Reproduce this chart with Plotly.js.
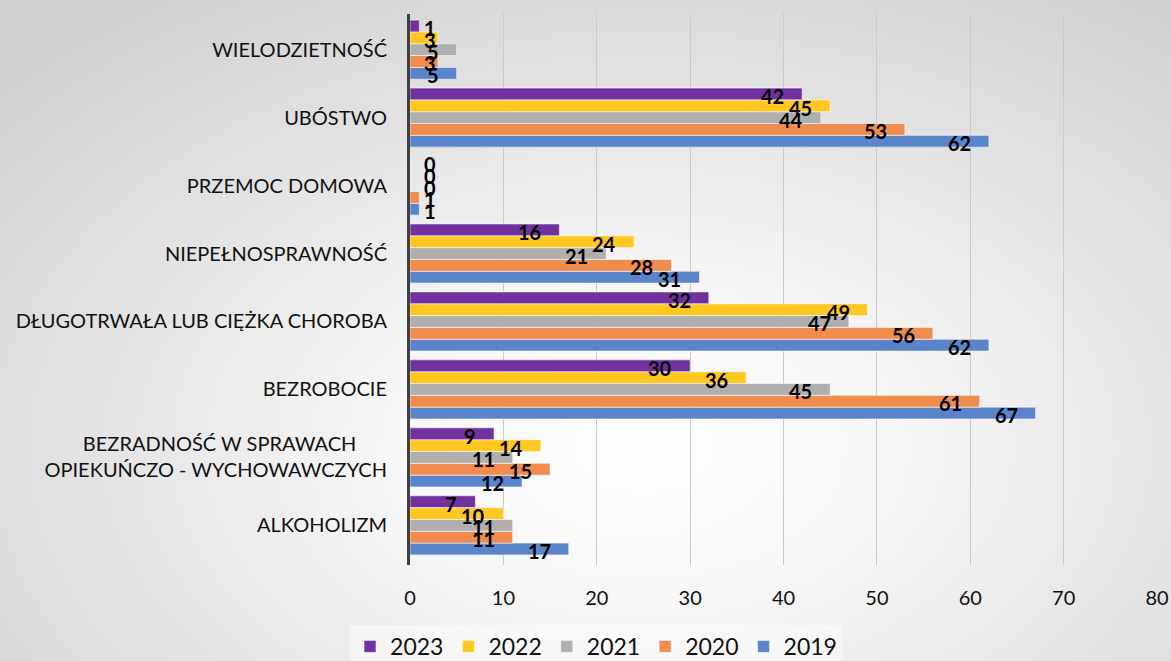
<!DOCTYPE html>
<html>
<head>
<meta charset="utf-8">
<script src="https://cdn.plot.ly/plotly-3.0.1.min.js"></script>
<style>
  html, body { margin: 0; padding: 0; }
  body {
    width: 1171px; height: 661px; overflow: hidden;
    background: radial-gradient(ellipse 75% 85% at 55% 68%, #ffffff 0%, #f6f6f6 30%, #e2e2e2 65%, #d0d0d0 100%);
  }
</style>
</head>
<body>
<div id="chart"></div>
<script>
// categories from bottom to top
const categories = [
  'ALKOHOLIZM',
  'BEZRADNOŚĆ W SPRAWACH\u00a0\u00a0\u00a0\u00a0\u00a0\u00a0<br>OPIEKUŃCZO - WYCHOWAWCZYCH',
  'BEZROBOCIE',
  'DŁUGOTRWAŁA LUB CIĘŻKA CHOROBA',
  'NIEPEŁNOSPRAWNOŚĆ',
  'PRZEMOC DOMOWA',
  'UBÓSTWO',
  'WIELODZIETNOŚĆ'
];

const years = ['2019', '2020', '2021', '2022', '2023'];
const v2019 = [17, 12, 67, 62, 31, 1, 62, 5];
const v2020 = [11, 15, 61, 56, 28, 1, 53, 3];
const v2021 = [11, 11, 45, 47, 21, 0, 44, 5];
const v2022 = [10, 14, 36, 49, 24, 0, 45, 3];
const v2023 = [7, 9, 30, 32, 16, 0, 42, 1];
const series = [v2019, v2020, v2021, v2022, v2023];
const colors = ['#5a85cb', '#ef8c4e', '#afafaf', '#ffc722', '#7132a0'];

const bargap = 0.13;
const barW = (1 - bargap) / years.length;

let data = series.map((vals, k) => ({
  type: 'bar',
  orientation: 'h',
  name: years[k],
  x: vals,
  y: categories,
  marker: {color: colors[k], line: {color: 'rgba(255,255,255,0.55)', width: 1}},
  hoverinfo: 'x+name'
}));

// data labels, positioned on the category axis index scale
let annotations = [];
series.forEach((vals, k) => {
  vals.forEach((v, i) => {
    let small = v < 5;
    annotations.push({
      x: small ? 0 : v,
      y: i + (k - 2) * barW,
      xref: 'x', yref: 'y',
      text: String(v),
      showarrow: false,
      xanchor: 'right',
      yanchor: 'middle',
      xshift: small ? 28 : -16,
      yshift: -2,
      font: {family: 'Lato, "Liberation Sans", sans-serif', size: 20, weight: 700, color: '#000'}
    });
  });
});

let layout = {
  width: 1171,
  height: 661,
  autosize: false,
  paper_bgcolor: 'rgba(0,0,0,0)',
  plot_bgcolor: 'rgba(0,0,0,0)',
  margin: {l: 410, r: 14, t: 14, b: 96},
  barmode: 'group',
  bargap: bargap,
  bargroupgap: 0,
  font: {family: 'Lato, "Liberation Sans", sans-serif', color: '#000'},
  xaxis: {
    range: [0, 80],
    dtick: 10,
    showgrid: true,
    gridcolor: '#c9c9c9',
    gridwidth: 1,
    zeroline: false,
    ticks: '',
    ticklabelstandoff: 19,
    tickfont: {size: 20, color: '#111'}
  },
  yaxis: {
    type: 'category',
    showline: true,
    linecolor: '#404040',
    linewidth: 3,
    showgrid: false,
    ticks: '',
    ticklabelstandoff: 16,
    tickfont: {size: 20, color: '#111'}
  },
  legend: {
    orientation: 'h',
    traceorder: 'reversed',
    xref: 'container',
    yref: 'container',
    x: 0.509,
    xanchor: 'center',
    y: 0.022,
    yanchor: 'middle',
    bgcolor: 'rgba(255,255,255,0.45)',
    font: {size: 23, color: '#111'},
    itemwidth: 30
  },
  annotations: annotations,
  showlegend: true
};

Plotly.newPlot('chart', data, layout, {displayModeBar: false, staticPlot: true});
</script>
</body>
</html>
